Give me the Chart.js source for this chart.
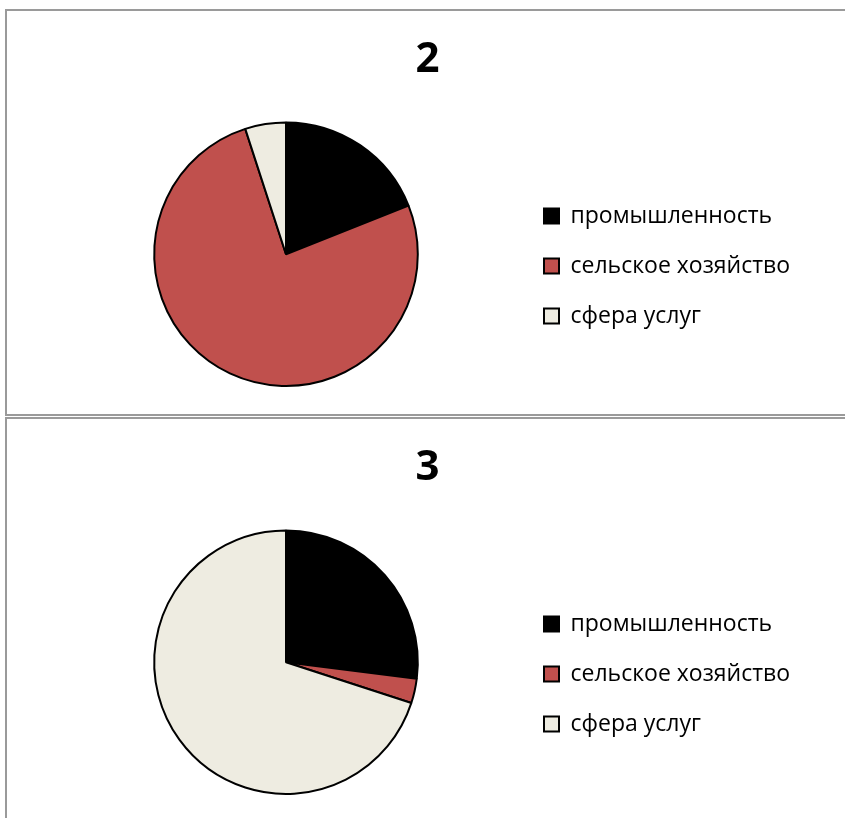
<!DOCTYPE html>
<html>
<head>
<meta charset="utf-8">
<script src="https://cdn.jsdelivr.net/npm/chart.js@4"></script>
<style>
  html, body { margin: 0; padding: 0; background: #fff; overflow: hidden; }
  .frame { position: absolute; left: 5px; width: 900px; border: 2px solid #9a9a9a; box-sizing: border-box; background: #fff; }
  #f1 { top: 9px; height: 407px; }
  #f2 { top: 417px; height: 500px; }
  canvas { display: block; }
</style>
</head>
<body>
<div class="frame" id="f1"><canvas id="c1" width="838" height="403"></canvas></div>
<div class="frame" id="f2"><canvas id="c2" width="838" height="403"></canvas></div>
<script>
const categories = ['промышленность', 'сельское хозяйство', 'сфера услуг'];
const title1 = '2';
const values1 = [19, 76, 5];
const title2 = '3';
const values2 = [27, 3, 70];
const sliceColors = ['#000000', '#c0504d', '#eeece1'];

const FONT = "'Open Sans', 'Noto Sans', sans-serif";
const LEG_SIZE = 23, BOX = 15, LEG_PAD = 27;

function legendWidth() {
  const c = document.createElement('canvas').getContext('2d');
  c.font = LEG_SIZE + 'px ' + FONT;
  let m = 0;
  categories.forEach(t => { m = Math.max(m, c.measureText(t).width); });
  return LEG_PAD + BOX + LEG_SIZE / 2 + m;
}

function makeChart(id, titleText, values) {
  const W = 838;
  const legendLeft = 520;
  const padR = Math.max(0, W - legendLeft - legendWidth());
  return new Chart(document.getElementById(id), {
    type: 'pie',
    data: {
      labels: categories,
      datasets: [{
        data: values,
        backgroundColor: sliceColors,
        borderColor: '#000000',
        borderWidth: 2
      }]
    },
    options: {
      responsive: false,
      animation: false,
      devicePixelRatio: 1,
      layout: { padding: { left: 48, right: padR, top: 0, bottom: 27 } },
      plugins: {
        title: {
          display: true,
          text: titleText,
          color: '#000',
          font: { family: FONT, size: 42, weight: 'bold' },
          padding: { top: 24, bottom: 36 }
        },
        legend: {
          position: 'right',
          align: 'center',
          title: { display: true, text: ' ', font: { size: 10 }, padding: { top: 122, bottom: 0 } },
          labels: {
            color: '#000',
            font: { family: FONT, size: LEG_SIZE },
            boxWidth: BOX,
            boxHeight: BOX,
            padding: LEG_PAD
          }
        },
        tooltip: { enabled: false }
      }
    }
  });
}

makeChart('c1', title1, values1);
makeChart('c2', title2, values2);
</script>
</body>
</html>
